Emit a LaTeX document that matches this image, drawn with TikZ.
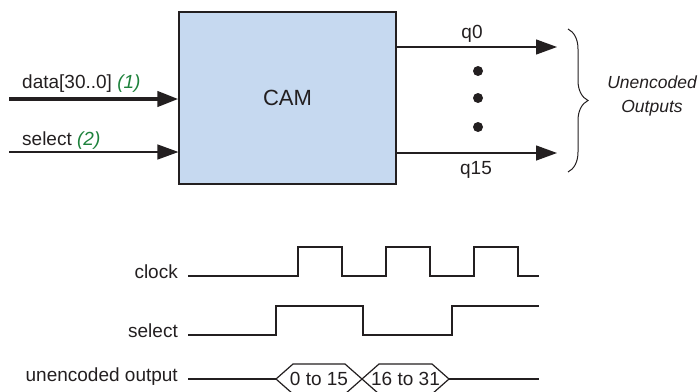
\documentclass[tikz,border=0pt]{standalone}
\usepackage{fontspec}
\setmainfont{Liberation Sans}
\usetikzlibrary{arrows.meta,positioning,decorations.pathreplacing}
\definecolor{camblue} {RGB}{198,217,240}
\definecolor{camline} {RGB}{35, 31, 32}
\definecolor{notegreen}{RGB}{30,130, 60}
\tikzset{
  cam/.style={draw=camline,fill=camblue,line width=1.2pt,
              minimum width=217pt,minimum height=172pt,inner sep=0pt,
              font=\fontsize{22}{26}\selectfont,text=camline},
  sig/.style={-{Triangle[length=21pt,width=15pt]},line width=1.3pt,color=camline},
  bus/.style={sig,line width=4pt},
  lbl/.style={font=\fontsize{19}{23}\selectfont,text=camline,inner sep=0pt},
  note/.style={font=\fontsize{19}{23}\selectfont\itshape,text=notegreen},
  grp/.style={font=\fontsize{17.5}{24}\selectfont\itshape,text=camline,
              align=center,inner sep=0pt},
  wave/.style={line width=1.2pt,color=camline,line join=miter},
  dot/.style={fill=camline},
}
\begin{document}
\begin{tikzpicture}[x=1pt,y=-1pt]
  \clip (0,0) rectangle (698,391);

  % block
  \node[cam] (CAM) at (287.5,98) {CAM};

  \coordinate (DIN) at (9,99);
  \coordinate (SIN) at (9,152);
  \coordinate (Q0)  at (557,47);
  \coordinate (Q15) at (557,153);

  \draw[bus] (DIN) -- (DIN -| CAM.west);
  \draw[sig] (SIN) -- (SIN -| CAM.west);
  \draw[sig] (Q0 -| CAM.east) -- (Q0);
  \draw[sig] (Q15 -| CAM.east) -- (Q15);

  \node[lbl,anchor=base west] (DL) at (22,88)  {data[30..0] \textcolor{notegreen}{\itshape (1)}};
  \node[lbl,anchor=base west] (SL) at (22,145) {select \textcolor{notegreen}{\itshape (2)}};
  \node[lbl,anchor=base] (Q0L)  at (472,38)  {q0};
  \node[lbl,anchor=base] (Q15L) at (476,174) {q15};

  \foreach \y in {71,98,127}
    \fill[dot] (478,\y) circle (5pt);

  \draw[camline,line width=1pt,decorate,decoration={brace,amplitude=20pt}]
    (568,29) -- (568,172);
  \node[grp] (OUT) at (652,96) {Unencoded\\Outputs};

  % timing
  \node[lbl,anchor=mid east] (CLK) at (178,276) {clock};
  \node[lbl,anchor=mid east] (SEL) at (178,335) {select};
  \node[lbl,anchor=mid east] (UO)  at (178,379) {unencoded output};

  \draw[wave] (188,276) -| (298,247) -| (342,276) -| (386,247)
              -| (430,276) -| (474,247) -| (518,276) -- (539,276);
  \draw[wave] (188,335) -| (276,306) -| (363,335) -| (452,306) -- (539,306);

  \coordinate (H1) at (276,379);
  \coordinate (H2) at (362,379);
  \coordinate (H3) at (449,379);
  \draw[wave] (188,379) -- (H1);
  \draw[wave] (H1) -- (293,364) -- (345,364) -- (H2) -- (345,394) -- (293,394) -- cycle;
  \draw[wave] (H2) -- (379,364) -- (432,364) -- (H3) -- (432,394) -- (379,394) -- cycle;
  \draw[wave] (H3) -- (539,379);
  \node[lbl] (V1) at (319,379) {0 to 15};
  \node[lbl] (V2) at (405.5,379) {16 to 31};
\end{tikzpicture}
\end{document}
